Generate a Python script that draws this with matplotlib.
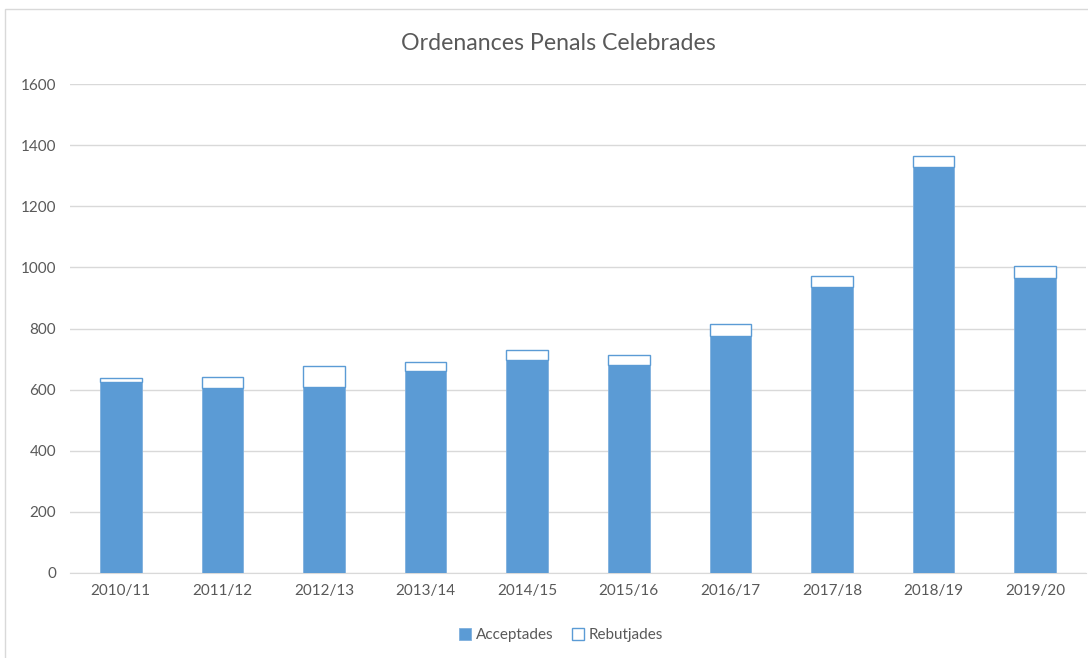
import matplotlib
matplotlib.use("Agg")
import matplotlib.pyplot as plt
from matplotlib.patches import Rectangle
import numpy as np

categories = ["2010/11", "2011/12", "2012/13", "2013/14", "2014/15",
              "2015/16", "2016/17", "2017/18", "2018/19", "2019/20"]
acceptades = [624, 605, 607, 660, 697, 679, 774, 936, 1328, 966]
rebutjades = [14, 36, 69, 29, 34, 35, 42, 36, 38, 40]

plt.rcParams['font.family'] = ['Lato', 'DejaVu Sans']
text_color = '#595959'
blue = '#5b9bd5'

fig = plt.figure(figsize=(10.88, 6.58), dpi=100)
fig.patches.append(Rectangle((5/1088, -0.05), 1.2, 1 - 9/658 + 0.05,
                             transform=fig.transFigure, fill=False,
                             edgecolor='#d9d9d9', linewidth=1.0))
ax = fig.add_axes([70/1088, 1 - 573/658, 1016/1088, 489/658])

x = np.arange(len(categories))
w = 0.41
ax.bar(x, acceptades, width=w, color=blue, edgecolor='#7fb0de', linewidth=0.6,
       label='Acceptades', zorder=3)
ax.bar(x, rebutjades, width=w, bottom=acceptades, color='white',
       edgecolor=blue, linewidth=1.0, label='Rebutjades', zorder=3)

ax.set_xlim(-0.5, len(categories) - 0.5)
ax.set_ylim(0, 1600)
ax.set_yticks(range(0, 1601, 200))
ax.set_xticks(x)
ax.set_xticklabels(categories)
ax.yaxis.grid(True, color='#d9d9d9', linewidth=1, zorder=0)
ax.set_axisbelow(True)
for s in ['top', 'right', 'left']:
    ax.spines[s].set_visible(False)
ax.spines['bottom'].set_color('#d9d9d9')
ax.tick_params(axis='both', length=0, labelsize=11, colors=text_color, pad=8)
ax.tick_params(axis='y', pad=10)

fig.text(558/1088, 1 - 44/658, "Ordenances Penals Celebrades", ha='center', va='center',
         fontsize=16.7, color=text_color)

leg = fig.legend(loc='center', bbox_to_anchor=(561/1088, 1 - 635/658), ncol=2,
                 frameon=False, fontsize=11, handlelength=0.8, handleheight=0.8,
                 handletextpad=0.3, columnspacing=1.2)
for t in leg.get_texts():
    t.set_color(text_color)

fig.savefig("out.png", dpi=100)
